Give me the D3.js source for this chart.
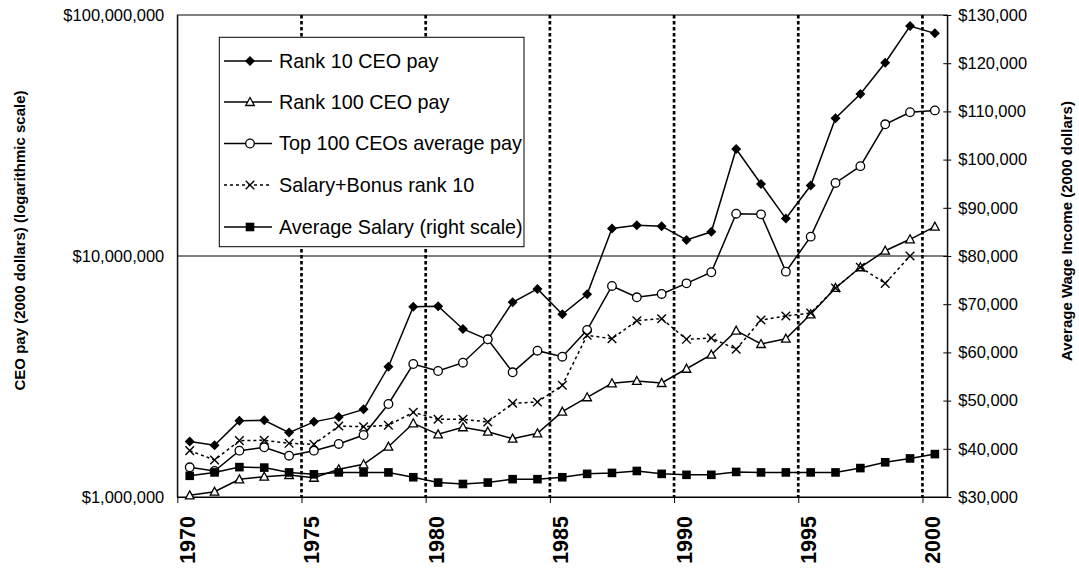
<!DOCTYPE html>
<html>
<head>
<meta charset="utf-8">
<script src="https://cdn.jsdelivr.net/npm/d3@7"></script>
<style>
  html, body { margin: 0; padding: 0; background: #fff; }
  svg { display: block; font-family: Arial, "Liberation Sans", sans-serif; }
</style>
</head>
<body>
<svg id="chart" width="1079" height="574"></svg>
<script>
// ---- data ----
const years = d3.range(1970, 2001);
const rank10 = [1.70e6,1.64e6,2.07e6,2.08e6,1.85e6,2.05e6,2.15e6,2.31e6,3.47e6,6.16e6,6.19e6,4.98e6,4.50e6,6.43e6,7.30e6,5.73e6,6.94e6,13.0e6,13.4e6,13.3e6,11.65e6,12.6e6,27.8e6,19.9e6,14.3e6,19.6e6,37.3e6,47.0e6,63.4e6,90.0e6,83.9e6];
const rank100 = [1.016e6,1.052e6,1.184e6,1.214e6,1.234e6,1.202e6,1.303e6,1.367e6,1.617e6,2.022e6,1.820e6,1.947e6,1.866e6,1.746e6,1.838e6,2.259e6,2.593e6,2.964e6,3.030e6,2.972e6,3.406e6,3.894e6,4.898e6,4.313e6,4.538e6,5.730e6,7.37e6,8.98e6,10.52e6,11.73e6,13.23e6];
const top100avg = [1.328e6,1.282e6,1.557e6,1.608e6,1.484e6,1.557e6,1.660e6,1.808e6,2.432e6,3.563e6,3.333e6,3.608e6,4.511e6,3.292e6,4.047e6,3.821e6,4.931e6,7.51e6,6.74e6,6.96e6,7.70e6,8.56e6,14.98e6,14.89e6,8.61e6,12.03e6,20.1e6,23.6e6,35.2e6,39.5e6,40.2e6];
const salaryBonus10 = [1.557e6,1.424e6,1.713e6,1.719e6,1.670e6,1.654e6,1.970e6,1.957e6,1.984e6,2.246e6,2.101e6,2.101e6,2.048e6,2.448e6,2.479e6,2.907e6,4.688e6,4.538e6,5.390e6,5.494e6,4.511e6,4.567e6,4.101e6,5.426e6,5.636e6,5.801e6,7.37e6,8.98e6,7.70e6,10.0e6,null];
const avgSalary = [34400,35100,36200,36100,35100,34700,35100,35100,35100,34100,33000,32700,33000,33700,33700,34100,34800,35000,35400,34800,34600,34600,35200,35100,35100,35100,35100,36000,37200,38000,38900];
const leftTicks = [1e6, 1e7, 1e8];
const rightTicks = d3.range(30000, 130001, 10000);
const xTicks = [1970, 1975, 1980, 1985, 1990, 1995, 2000];
const vlineYears = [1975, 1980, 1985, 1990, 1995, 2000];
const legendLabels = ["Rank 10 CEO pay", "Rank 100 CEO pay", "Top 100 CEOs average pay", "Salary+Bonus rank 10", "Average Salary (right scale)"];
const leftTitle = "CEO pay (2000 dollars) (logarithmic scale)";
const rightTitle = "Average Wage Income (2000 dollars)";

// ---- layout ----
const L = 177.3, T = 15, R = 947.3, B = 497;
const svg = d3.select("#chart");

const x = d3.scaleLinear().domain([1970, 2001]).range([L, R]);
const yL = d3.scaleLog().domain([1e6, 1e8]).range([B, T]);
const yR = d3.scaleLinear().domain([30000, 130000]).range([B, T]);

const fmtL = d3.format("$,.0f");

// horizontal gridline at 10M
svg.append("line")
  .attr("x1", L).attr("x2", R).attr("y1", yL(1e7)).attr("y2", yL(1e7))
  .attr("stroke", "#000").attr("stroke-width", 1);

// vertical dotted lines
svg.append("g").selectAll("line").data(vlineYears).join("line")
  .attr("x1", d => x(d)).attr("x2", d => x(d))
  .attr("y1", T).attr("y2", B)
  .attr("stroke", "#000").attr("stroke-width", 2.7)
  .attr("stroke-dasharray", "3.5,2.5");

// frame
svg.append("rect").attr("x", L).attr("y", T).attr("width", R - L).attr("height", B - T)
  .attr("fill", "none").attr("stroke", "#000").attr("stroke-width", 1);

// left axis
const gL = svg.append("g").attr("transform", `translate(${L},0)`)
  .call(d3.axisLeft(yL).tickValues(leftTicks).tickFormat(fmtL).tickSize(0).tickPadding(13));
gL.select(".domain").attr("stroke", "#000");
gL.selectAll("text").attr("font-size", 16.5).attr("fill", "#000").attr("font-family", "Arial, 'Liberation Sans', sans-serif");

// right axis
const gR = svg.append("g").attr("transform", `translate(${R},0)`)
  .call(d3.axisRight(yR).tickValues(rightTicks).tickFormat(fmtL).tickSizeInner(4).tickSizeOuter(0).tickPadding(7));
gR.select(".domain").attr("stroke", "#000");
gR.selectAll(".tick line").attr("x1", -4).attr("x2", 4).attr("stroke", "#000");
gR.selectAll("text").attr("font-size", 16.5).attr("fill", "#000").attr("font-family", "Arial, 'Liberation Sans', sans-serif");

// bottom axis
const gB = svg.append("g").attr("transform", `translate(0,${B})`)
  .call(d3.axisBottom(x).tickValues(xTicks).tickFormat(d3.format("d")).tickSizeInner(6).tickSizeOuter(0));
gB.select(".domain").attr("stroke", "#000");
gB.selectAll(".tick line").attr("stroke", "#000");
gB.selectAll("text")
  .attr("font-size", 21.5).attr("font-weight", "bold").attr("fill", "#000")
  .attr("font-family", "Arial, 'Liberation Sans', sans-serif")
  .attr("transform", "rotate(-90)")
  .attr("text-anchor", "end")
  .attr("x", -19).attr("y", 17.5).attr("dy", 0);

// axis titles
svg.append("text").text(leftTitle)
  .attr("transform", "translate(19.7,240.5) rotate(-90)")
  .attr("text-anchor", "middle").attr("dy", "0.35em")
  .attr("font-size", 15).attr("font-weight", "bold");
svg.append("text").text(rightTitle)
  .attr("transform", "translate(1067,231) rotate(-90)")
  .attr("text-anchor", "middle").attr("dy", "0.35em")
  .attr("font-size", 15).attr("font-weight", "bold");

// ---- series ----
const xp = i => x(years[i] + 0.5);
const lineL = d3.line().defined(d => d != null).x((d, i) => xp(i)).y(d => yL(d));
const lineR = d3.line().x((d, i) => xp(i)).y(d => yR(d));

const series = [
  { vals: rank10, scale: yL, line: lineL, marker: "diamond", dash: null },
  { vals: rank100, scale: yL, line: lineL, marker: "triangle", dash: null },
  { vals: top100avg, scale: yL, line: lineL, marker: "circle", dash: null },
  { vals: salaryBonus10, scale: yL, line: lineL, marker: "cross", dash: "3,3" },
  { vals: avgSalary, scale: yR, line: lineR, marker: "square", dash: null }
];

function drawMarker(g, type, cx, cy) {
  if (type === "diamond") {
    g.append("path").attr("d", `M${cx},${cy-5}L${cx+5},${cy}L${cx},${cy+5}L${cx-5},${cy}Z`).attr("fill", "#000");
  } else if (type === "triangle") {
    g.append("path").attr("d", `M${cx},${cy-4.5}L${cx+4.3},${cy+3.5}L${cx-4.3},${cy+3.5}Z`)
      .attr("fill", "#fff").attr("stroke", "#000").attr("stroke-width", 1.3);
  } else if (type === "circle") {
    g.append("circle").attr("cx", cx).attr("cy", cy).attr("r", 4.3)
      .attr("fill", "#fff").attr("stroke", "#000").attr("stroke-width", 1.3);
  } else if (type === "cross") {
    g.append("path").attr("d", `M${cx-4.3},${cy-4.3}L${cx+4.3},${cy+4.3}M${cx-4.3},${cy+4.3}L${cx+4.3},${cy-4.3}`)
      .attr("stroke", "#000").attr("stroke-width", 1.4).attr("fill", "none");
  } else if (type === "square") {
    g.append("rect").attr("x", cx - 4.3).attr("y", cy - 4.3).attr("width", 8.6).attr("height", 8.6).attr("fill", "#000");
  }
}

series.forEach(s => {
  const g = svg.append("g");
  g.append("path").datum(s.vals).attr("d", s.line)
    .attr("fill", "none").attr("stroke", "#000").attr("stroke-width", 1.5)
    .attr("stroke-dasharray", s.dash);
  s.vals.forEach((v, i) => { if (v != null) drawMarker(g, s.marker, xp(i), s.scale(v)); });
});

// ---- legend ----
const lg = svg.append("g");
lg.append("rect").attr("x", 219.3).attr("y", 37.3).attr("width", 304.7).attr("height", 209.4)
  .attr("fill", "#fff").attr("stroke", "#000").attr("stroke-width", 1);
const rowY = [61, 102, 143.5, 185, 227];
series.forEach((s, k) => {
  const cy = rowY[k];
  lg.append("line").attr("x1", 224).attr("x2", 272).attr("y1", cy).attr("y2", cy)
    .attr("stroke", "#000").attr("stroke-width", 1.5).attr("stroke-dasharray", s.dash);
  drawMarker(lg, s.marker, 250, cy);
  lg.append("text").text(legendLabels[k]).attr("x", 279).attr("y", cy).attr("dy", "0.35em")
    .attr("font-size", 19.8).attr("fill", "#000");
});
</script>
</body>
</html>
